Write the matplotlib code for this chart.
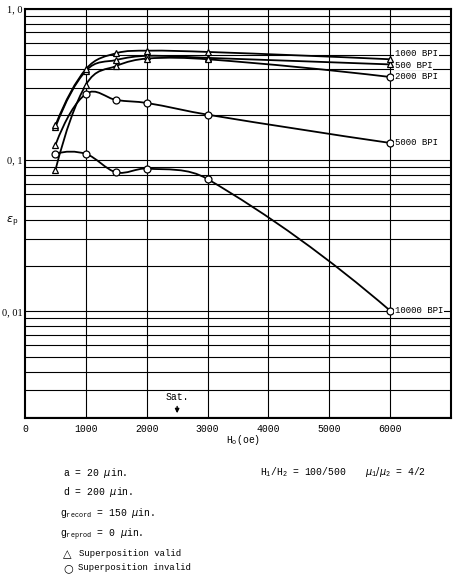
"""
Pulse crowding error eps_p versus head field H_o for several bit densities
"""

import matplotlib.pyplot as plt
from matplotlib.path import Path
from matplotlib.patches import PathPatch
import numpy as np

# ---- data --------------------------------------------------------------
h_field = [500, 1000, 1500, 2000, 3000, 6000]

eps_500 = [0.165, 0.39, 0.46, 0.49, 0.475, 0.43]
eps_1000 = [0.17, 0.40, 0.51, 0.53, 0.52, 0.465]
eps_2000 = [0.086, 0.315, 0.42, 0.47, 0.465, 0.355]
eps_5000 = [0.126, 0.274, 0.25, 0.239, 0.20, 0.13]
eps_10000 = [0.11, 0.11, 0.083, 0.088, 0.075, 0.0101]

# marker per point: 't' = superposition valid, 'c' = invalid
mk_500 = ['t', 't', 't', 't', 't', 't']
mk_1000 = ['t', 't', 't', 't', 't', 't']
mk_2000 = ['t', 't', 't', 't', 't', 'c']
mk_5000 = ['t', 'c', 'c', 'c', 'c', 'c']
mk_10000 = ['c', 'c', 'c', 'c', 'c', 'c']

series_labels = ['500 BPI', '1000 BPI', '2000 BPI', '5000 BPI', '10000 BPI']

MONO = 'Liberation Mono'
W, H = 458, 575


def smooth_path(xs, ys):
    """Cubic Hermite bezier through the points, in (x, log y) space."""
    px = np.asarray(xs, float)
    py = np.log10(ys)
    n = len(px)
    sec = np.diff(py) / np.diff(px)
    m = np.zeros(n)
    for i in range(1, n - 1):
        m[i] = (py[i + 1] - py[i - 1]) / (px[i + 1] - px[i - 1])
    m[0] = 2 * sec[0] - m[1]
    m[-1] = 2 * sec[-1] - m[-2]
    verts = [(px[0], ys[0])]
    codes = [Path.MOVETO]
    for i in range(n - 1):
        h = (px[i + 1] - px[i]) / 3
        verts += [(px[i] + h, 10 ** (py[i] + m[i] * h)),
                  (px[i + 1] - h, 10 ** (py[i + 1] - m[i + 1] * h)),
                  (px[i + 1], ys[i + 1])]
        codes += [Path.CURVE4] * 3
    return Path(verts, codes)


fig = plt.figure(figsize=(W / 100, H / 100), dpi=100)
ax = fig.add_axes([25 / W, 1 - 418 / H, 426 / W, 409 / H])

ax.set_yscale('log')
ax.set_xlim(0, 7000)
ax.set_ylim(0.00197, 1.0)

# grid
ax.set_yticks([1.0, 0.1, 0.01])
ax.set_yticklabels(['1, 0', '0, 1', '0, 01'], fontfamily='Liberation Serif',
                   fontsize=7.5)
ax.set_yticks([k * d for d in (0.001, 0.01, 0.1) for k in range(2, 10)
               if k * d > 0.00197], minor=True)
ax.set_xticks([0, 1000, 2000, 3000, 4000, 5000, 6000])
ax.set_xticklabels(['0', '1000', '2000', '3000', '4000', '5000', '6000'],
                   fontfamily=MONO, fontsize=7)
ax.tick_params(which='both', length=0)
ax.tick_params(axis='x', pad=4)
ax.tick_params(axis='y', pad=2)
ax.grid(True, which='both', axis='y', color='black', lw=0.8)
for xv in [1000, 2000, 3000, 4000, 5000, 6000]:
    ax.axvline(xv, color='black', lw=0.8, zorder=1)
for s in ax.spines.values():
    s.set_linewidth(1.5)

# curves and markers
all_series = [eps_500, eps_1000, eps_2000, eps_5000, eps_10000]
all_marks = [mk_500, mk_1000, mk_2000, mk_5000, mk_10000]
for ys, mks in zip(all_series, all_marks):
    ax.add_patch(PathPatch(smooth_path(h_field, ys), fill=False,
                           edgecolor='black', lw=1.3, zorder=3,
                           transform=ax.transData))
    for x, y, mk in zip(h_field, ys, mks):
        ax.plot(x, y, marker='^' if mk == 't' else 'o', ms=5, mfc='white',
                mec='black', mew=0.9, zorder=4)

# curve labels at the right
label_y = {'1000 BPI': 0.51, '500 BPI': 0.425, '2000 BPI': 0.355,
           '5000 BPI': 0.13, '10000 BPI': 0.0101}
for lab in series_labels:
    ax.text(6080, label_y[lab], lab, fontfamily=MONO, fontsize=6.5,
            va='center', ha='left', zorder=5,
            bbox=dict(facecolor='white', edgecolor='none', pad=0.5))

# saturation marker
ax.text(2500, 0.00272, 'Sat.', fontfamily=MONO, fontsize=7,
        ha='center', va='center', zorder=5,
        bbox=dict(facecolor='white', edgecolor='none', pad=0.3))
ax.annotate('', xy=(2500, 0.00203), xytext=(2500, 0.00245),
            arrowprops=dict(arrowstyle='-|>', color='black', lw=1.0,
                            mutation_scale=6), zorder=5)


def ftext(x, y, s, **kw):
    kw.setdefault('fontfamily', MONO)
    kw.setdefault('fontsize', 7)
    fig.text(x / W, 1 - y / H, s, **kw)


ftext(243, 440, r'H$_\mathregular{o}$(oe)', ha='center', va='center')
ftext(12, 222, r'$\epsilon_\mathregular{p}$', ha='center', va='center',
      fontsize=8)

ftext(63, 473, r'a = 20 $\mu$in.', va='center')
ftext(63, 492, r'd = 200 $\mu$in.', va='center')
ftext(60, 513, r'g$_\mathregular{record}$ = 150 $\mu$in.', va='center')
ftext(60, 535, r'g$_\mathregular{reprod}$ = 0 $\mu$in.', va='center')
ftext(63, 554, '\u25b3', va='center', fontfamily='DejaVu Sans', fontsize=8)
ftext(79, 554, 'Superposition valid', va='center', fontsize=6.5)
ftext(63, 568, '\u25cb', va='center', fontfamily='DejaVu Sans', fontsize=8)
ftext(78, 568, 'Superposition invalid', va='center', fontsize=6.5)

ftext(260, 472, r'H$_\mathregular{1}$/H$_\mathregular{2}$ = 100/500',
      va='center')
ftext(365, 472, r'$\mu_\mathregular{1}/\mu_\mathregular{2}$ = 4/2', va='center')

plt.savefig('out.png', dpi=100, facecolor='white')
